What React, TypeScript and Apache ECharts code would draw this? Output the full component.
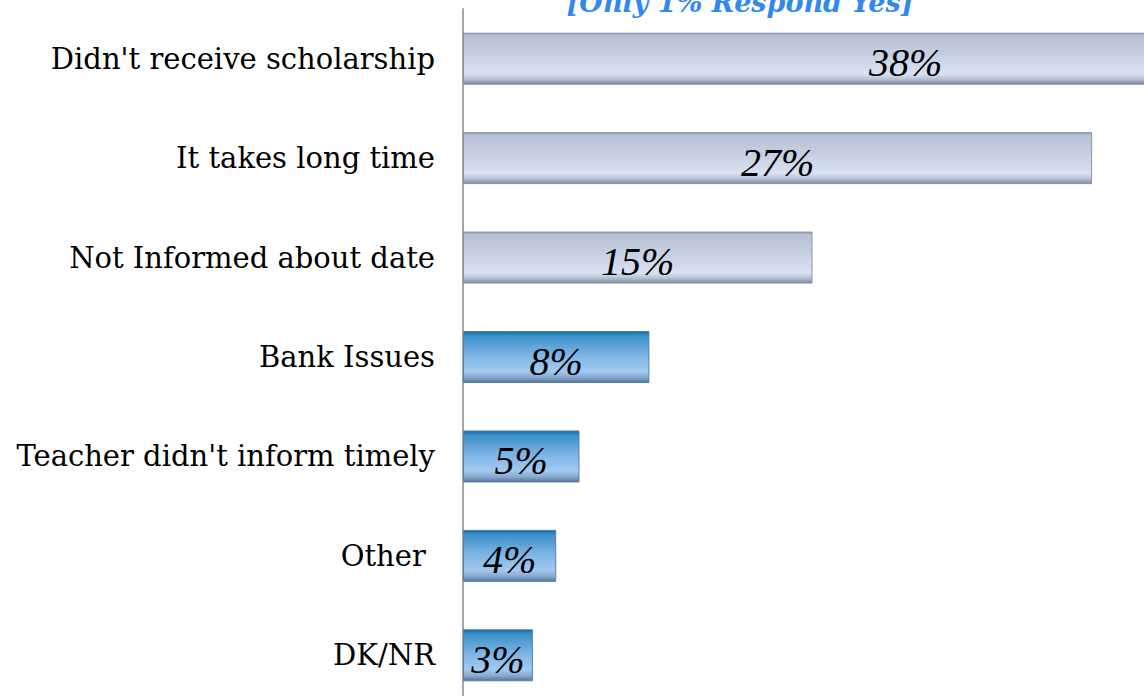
import React, { useEffect, useRef } from "react";
import * as echarts from "echarts";

const categories = [
  "Didn't receive scholarship",
  "It takes long time",
  "Not Informed about date",
  "Bank Issues",
  "Teacher didn't inform timely",
  "Other ",
  "DK/NR",
];
const values = [38, 27, 15, 8, 5, 4, 3];
const titleText = "[Only 1% Respond Yes]";

const lavender = new echarts.graphic.LinearGradient(0, 0, 0, 1, [
  { offset: 0, color: "#8e99ad" },
  { offset: 0.05, color: "#b6c1d4" },
  { offset: 0.45, color: "#c6d1e3" },
  { offset: 0.8, color: "#d8e2f2" },
  { offset: 0.9, color: "#b7c2d4" },
  { offset: 1, color: "#7d889b" },
]);
const blue = new echarts.graphic.LinearGradient(0, 0, 0, 1, [
  { offset: 0, color: "#0a6ca6" },
  { offset: 0.08, color: "#3a8fc9" },
  { offset: 0.45, color: "#7ab3e4" },
  { offset: 0.78, color: "#a3c9f0" },
  { offset: 0.9, color: "#86a9cf" },
  { offset: 1, color: "#56779c" },
]);

export default function App() {
  const ref = useRef<HTMLDivElement>(null);
  useEffect(() => {
    document.body.style.margin = "0";
    const chart = echarts.init(ref.current!, null, { renderer: "svg" });
    chart.setOption({
      animation: false,
      backgroundColor: "#ffffff",
      grid: {
        left: 463,
        top: 9,
        width: 932,
        height: 696,
        outerBoundsMode: "none",
        containLabel: false,
      },
      xAxis: { type: "value", min: 0, max: 40, show: false },
      yAxis: {
        type: "category",
        inverse: true,
        data: categories,
        axisLine: { show: true, lineStyle: { color: "#a6a6a6", width: 2 } },
        axisTick: { show: false },
        axisLabel: {
          margin: 28,
          fontSize: 29,
          fontFamily: "DejaVu Serif",
          color: "#000000",
        },
      },
      graphic: [
        {
          type: "text",
          x: 740,
          y: 16,
          style: {
            text: titleText,
            align: "center",
            verticalAlign: "bottom",
            fontSize: 27,
            fontWeight: "bold",
            fontStyle: "italic",
            fontFamily: "DejaVu Serif",
            fill: "#3388ee",
          },
        },
      ],
      series: [
        {
          type: "bar",
          barWidth: 52,
          clip: false,
          data: values.map((v, i) => ({
            value: v,
            itemStyle: {
              color: i < 3 ? lavender : blue,
              borderColor: i < 3 ? "#8a94a6" : "#5a7ea6",
              borderWidth: 1,
            },
          })),
          label: {
            show: true,
            position: "inside",
            offset: [0, 4],
            formatter: "{c}%",
            fontSize: 40,
            fontStyle: "italic",
            fontFamily: "Liberation Serif",
            color: "#000000",
          },
        },
      ],
    });
    return () => chart.dispose();
  }, []);
  return <div ref={ref} style={{ width: 1144, height: 696, overflow: "hidden" }} />;
}
